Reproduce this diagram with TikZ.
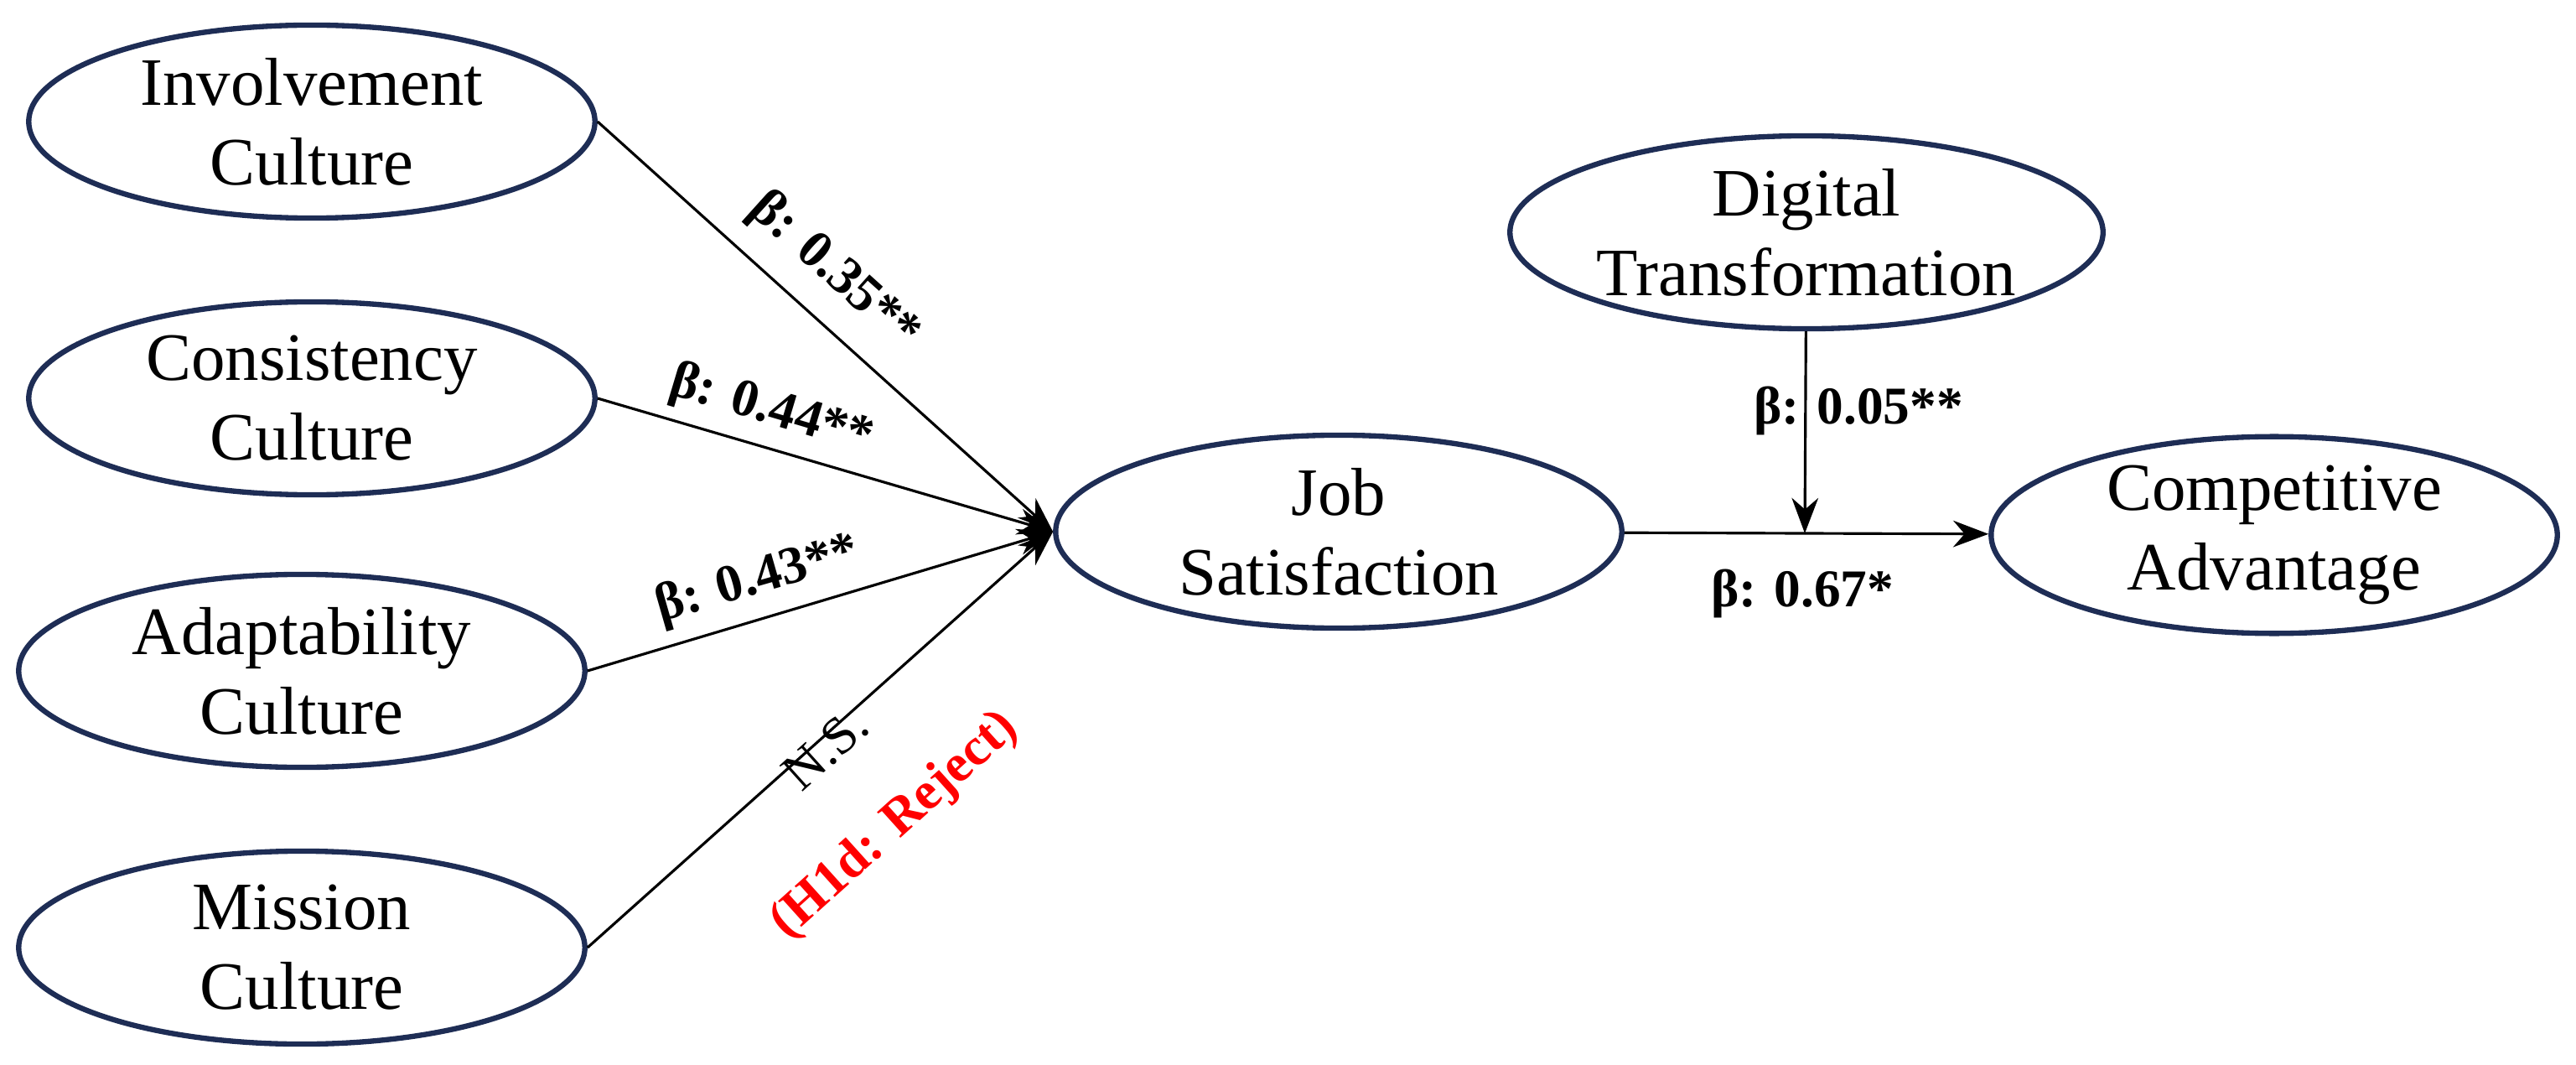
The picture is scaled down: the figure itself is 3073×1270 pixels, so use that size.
\documentclass[tikz,border=0pt]{standalone}
\usepackage{fontspec}
\setmainfont{Liberation Serif}
\usetikzlibrary{shapes.geometric,arrows.meta}
\definecolor{navy}{RGB}{30,45,85}
\begin{document}
\begin{tikzpicture}[x=0.01cm,y=-0.01cm,
  lat/.style={ellipse,draw=navy,line width=1.8pt,minimum width=6.75cm,minimum height=2.3cm,align=center,font=\fontsize{23}{27}\selectfont,inner sep=0pt},
  arr/.style={line width=0.9pt,-{Stealth[length=12pt,width=9pt]}},
  lab/.style={font=\bfseries\fontsize{18}{20}\selectfont,inner sep=1pt}]
\useasboundingbox (0,0) rectangle (3073,1270);
\node[lat] (inv) at (372,145) {Involvement\\Culture};
\node[lat] (con) at (372,475) {Consistency\\Culture};
\node[lat] (ada) at (360,800) {Adaptability\\Culture};
\node[lat] (mis) at (360,1130) {Mission\\Culture};
\node[lat] (js) at (1597,634) {Job\\Satisfaction};
\node[lat] (dt) at (2155,277) {Digital\\Transformation};
\node[lat] (ca) at (2713,638) {Competitive\\Advantage};
\coordinate (m) at (2153,636);
\draw[arr] (inv.east) -- (js.west);
\draw[arr] (con.east) -- (js.west);
\draw[arr] (ada.east) -- (js.west);
\draw[arr] (mis.east) -- (js.west);
\node[lab,rotate=-42] (l1) at (995,324) {β: 0.35**};
\node[lab,rotate=-16.7] (l2) at (920,490) {β: 0.44**};
\node[lab,rotate=16] (l3) at (904,692) {β: 0.43**};
\node[rotate=42,font=\fontsize{18}{20}\selectfont,inner sep=1pt] (ns) at (985,893) {N.S.};
\node[lab,text=red,rotate=42] (h1d) at (1068,985) {(H1d: Reject)};
\draw[line width=0.9pt] (js) -- (m);
\draw[arr] (m) -- (ca);
\draw[arr] (dt) -- (m);
\node[lab] (l5) at (2217,490) {β: 0.05**};
\node[lab] (l6) at (2150,708) {β: 0.67*};
\end{tikzpicture}
\end{document}
